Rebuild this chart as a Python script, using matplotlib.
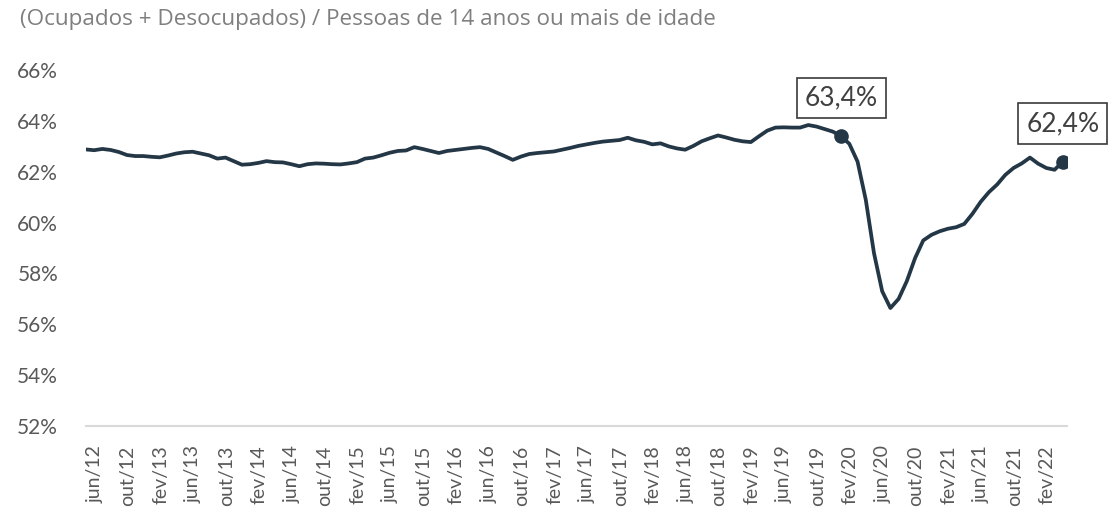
import matplotlib
matplotlib.use("Agg")
import matplotlib.pyplot as plt
import matplotlib.transforms as mtransforms

# taxa de participacao - trimestre movel, jun/12 ate mai/22
titulo = "(Ocupados + Desocupados) / Pessoas de 14 anos ou mais de idade"

taxa = [
    62.88, 62.85, 62.90, 62.86, 62.78, 62.66, 62.62, 62.62, 62.59, 62.57,
    62.64, 62.72, 62.77, 62.79, 62.72, 62.65, 62.52, 62.56, 62.42, 62.28,
    62.30, 62.35, 62.42, 62.38, 62.37, 62.30, 62.22, 62.30, 62.33, 62.32,
    62.30, 62.29, 62.33, 62.38, 62.52, 62.56, 62.65, 62.75, 62.82, 62.84,
    62.97, 62.90, 62.82, 62.74, 62.82, 62.86, 62.90, 62.94, 62.97, 62.90,
    62.76, 62.62, 62.47, 62.60, 62.70, 62.74, 62.77, 62.80, 62.87, 62.94,
    63.02, 63.08, 63.14, 63.19, 63.22, 63.25, 63.34, 63.24, 63.18, 63.08,
    63.12, 63.00, 62.92, 62.87, 63.02, 63.20, 63.32, 63.43, 63.35, 63.26,
    63.20, 63.17, 63.40, 63.62, 63.74, 63.75, 63.74, 63.74, 63.84, 63.78,
    63.68, 63.58, 63.40, 63.10, 62.40, 60.90, 58.80, 57.30, 56.64, 57.00,
    57.70, 58.60, 59.30, 59.52, 59.66, 59.76, 59.82, 59.95, 60.35, 60.82,
    61.20, 61.50, 61.88, 62.15, 62.33, 62.56, 62.32, 62.15, 62.08, 62.40,
]

rotulos = [
    "jun/12", "out/12", "fev/13", "jun/13", "out/13", "fev/14", "jun/14",
    "out/14", "fev/15", "jun/15", "out/15", "fev/16", "jun/16", "out/16",
    "fev/17", "jun/17", "out/17", "fev/18", "jun/18", "out/18", "fev/19",
    "jun/19", "out/19", "fev/20", "jun/20", "out/20", "fev/21", "jun/21",
    "out/21", "fev/22",
]
passo = 4
destaques = [92, len(taxa) - 1]  # fev/20 e ultimo ponto

cor = "#243746"
fonte = ["Lato", "DejaVu Sans"]
plt.rcParams["font.family"] = fonte

fig = plt.figure(figsize=(11.16, 5.12), dpi=100)
ax = fig.add_axes([0.077, 0.168, 0.879, 0.695])

x = list(range(len(taxa)))
ax.plot(x, taxa, color=cor, lw=2.7, solid_joinstyle="round", solid_capstyle="round")

for i in destaques:
    ax.plot(i, taxa[i], "o", color=cor, ms=9.5, zorder=3)
    txt = "{:.1f}%".format(taxa[i]).replace(".", ",")
    ax.annotate(txt, (i, taxa[i]), xytext=(0, 18.5), textcoords="offset points",
                ha="center", va="bottom", fontsize=19, color="#404040",
                bbox=dict(boxstyle="square,pad=0.3", fc="white", ec="#3a3a3a", lw=1.2))

ax.set_xlim(0, len(taxa) - 0.5)
ax.set_ylim(52, 66)
ax.set_yticks(range(52, 67, 2))
ax.set_yticklabels(["{}%".format(v) for v in range(52, 67, 2)])
ax.set_xticks(range(0, len(taxa), passo)[:len(rotulos)])
ax.set_xticklabels(rotulos, rotation=90)

ax.tick_params(axis="both", length=0, colors="#595959")
ax.tick_params(axis="y", pad=20, labelsize=15)
ax.tick_params(axis="x", pad=14, labelsize=14)

# rotulos do eixo x um pouco deslocados, como no original
desloc = mtransforms.ScaledTranslation(9 / 100, 0, fig.dpi_scale_trans)
for lab in ax.get_xticklabels():
    lab.set_transform(lab.get_transform() + desloc)

for s in ["top", "right", "left"]:
    ax.spines[s].set_visible(False)
ax.spines["bottom"].set_color("#d9d9d9")
ax.spines["bottom"].set_linewidth(1.5)

fig.text(20 / 1116, 1 - 20 / 512, titulo, fontsize=16.2, color="#7f7f7f",
         ha="left", va="center", family=["Open Sans", "DejaVu Sans"])

fig.savefig("out.png", dpi=100)
